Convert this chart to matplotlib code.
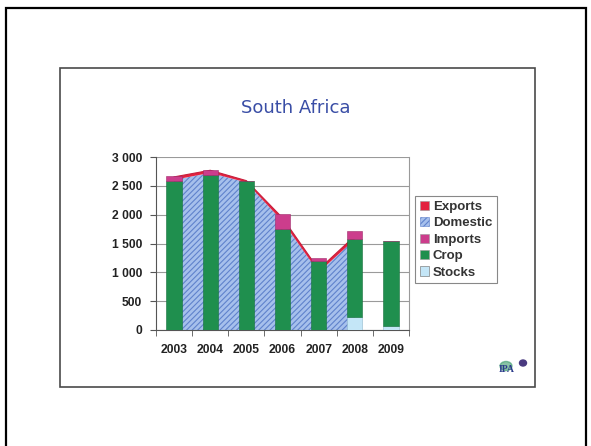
import numpy as np
import matplotlib.pyplot as plt
from matplotlib.patches import Rectangle, Patch, Circle, Ellipse

plt.rcParams['font.family'] = ['Liberation Sans', 'DejaVu Sans']

years = ['2003', '2004', '2005', '2006', '2007', '2008', '2009']
# bars: stocks at the bottom, crop on top, imports on top of that
stocks = [0, 0, 0, 0, 0, 230, 70]
crop = [2590, 2695, 2585, 1745, 1200, 1340, 1470]
imports = [75, 75, 0, 265, 40, 155, 0]
# stacked area, only reported up to 2008
domestic = [2605, 2725, 2560, 1885, 1000, 1570]
exports = [50, 45, 30, 60, 50, 60]
yticks = [0, 500, 1000, 1500, 2000, 2500, 3000]
ytick_labels = ['0', '500', '1 000', '1 500', '2 000', '2 500', '3 000']

c_exports = '#e3223f'
c_dom = '#a6c0ec'
c_dom_hatch = '#5f82cc'
c_imports = '#cc3d8c'
c_crop = '#1f8f4e'
c_stocks = '#c4e6f7'

W, H = 591, 446
fig = plt.figure(figsize=(W / 100, H / 100), dpi=100)
fig.patch.set_facecolor('white')

# slide frames
fig.add_artist(Rectangle((6 / W, -0.1), 580 / W, 1.1 - 8 / H, transform=fig.transFigure,
                         fill=False, ec='black', lw=1.6))
fig.add_artist(Rectangle((60 / W, 1 - 387 / H), 475 / W, 319 / H, transform=fig.transFigure,
                         fill=False, ec='#4a4a4a', lw=1.2))

fig.text(296 / W, 1 - 108 / H, 'South Africa', ha='center', va='center', fontsize=13,
         color='#3a4ea6', family=['DejaVu Sans'])

ax = fig.add_axes([156 / W, 1 - 330 / H, 253 / W, 173 / H])
x = np.arange(len(years))
xa = x[:len(domestic)]
dom = np.array(domestic)
tot = dom + np.array(exports)

plt.rcParams['hatch.linewidth'] = 0.8
ax.fill_between(xa, 0, dom, facecolor=c_dom, edgecolor=c_dom_hatch, hatch='//////', lw=0, zorder=2)
ax.fill_between(xa, dom, tot, facecolor=c_exports, lw=0, zorder=2)
ax.plot(xa, tot, color='#c81e3c', lw=0.8, zorder=2)

w = 0.42
bot = np.array(stocks)
ax.bar(x, stocks, w, color=c_stocks, edgecolor='#8fb8cc', lw=0.4, zorder=3)
ax.bar(x, crop, w, bottom=bot, color=c_crop, edgecolor='#17703c', lw=0.4, zorder=3)
bot = bot + np.array(crop)
ax.bar(x, imports, w, bottom=bot, color=c_imports, edgecolor='#a02a6a', lw=0.4, zorder=3)

ax.set_xlim(-0.5, len(years) - 0.5)
ax.set_ylim(0, 3000)
ax.set_yticks(yticks)
ax.set_yticklabels(ytick_labels, fontsize=8.7, fontweight='bold', color='#222222')
ax.set_xticks(x)
ax.set_xticklabels(years, fontsize=8.7, fontweight='bold', color='#222222')
ax.set_xticks(np.arange(len(years) + 1) - 0.5, minor=True)
ax.tick_params(axis='x', which='major', length=0, pad=10)
ax.tick_params(axis='x', which='minor', length=4, color='#555555', direction='out')
ax.tick_params(axis='y', length=4, color='#555555', pad=6)
ax.yaxis.grid(True, color='#9a9a9a', lw=0.8, zorder=0)
ax.set_axisbelow(True)
for s in ['top']:
    ax.spines[s].set_visible(False)
ax.spines['right'].set_color('#9a9a9a')
ax.spines['left'].set_color('#555555')
ax.spines['bottom'].set_color('#555555')

handles = [
    Patch(facecolor=c_exports, edgecolor='#999999', lw=0.4),
    Patch(facecolor=c_dom, edgecolor=c_dom_hatch, hatch='//////', lw=0.4),
    Patch(facecolor=c_imports, edgecolor='#999999', lw=0.4),
    Patch(facecolor=c_crop, edgecolor='#999999', lw=0.4),
    Patch(facecolor=c_stocks, edgecolor='#666666', lw=0.4),
]
leg = fig.legend(handles, ['Exports', 'Domestic', 'Imports', 'Crop', 'Stocks'],
                 loc='upper left', bbox_to_anchor=(415 / W, 1 - 196 / H), borderaxespad=0,
                 prop={'size': 9.5, 'weight': 'bold'}, handlelength=0.7, handleheight=0.7,
                 handletextpad=0.3, labelspacing=0.32, borderpad=0.35,
                 fancybox=False, framealpha=1)
leg.get_frame().set_edgecolor('#888888')
leg.get_frame().set_linewidth(0.8)
for t in leg.get_texts():
    t.set_color('#333333')

# small logo in the corner
fig.add_artist(Circle((506 / W, 1 - 366 / H), 6 / W, transform=fig.transFigure,
                      color='#3a9a6a', alpha=0.6))
fig.add_artist(Ellipse((523 / W, 1 - 363 / H), 7 / W, 6 / H, transform=fig.transFigure,
                       color='#4a3a80'))
fig.text(507 / W, 1 - 370 / H, 'IPA', ha='center', va='center', fontsize=7,
         color='#2a3a8a', family=['Liberation Serif'], fontweight='bold')

fig.savefig('out.png', dpi=100)
